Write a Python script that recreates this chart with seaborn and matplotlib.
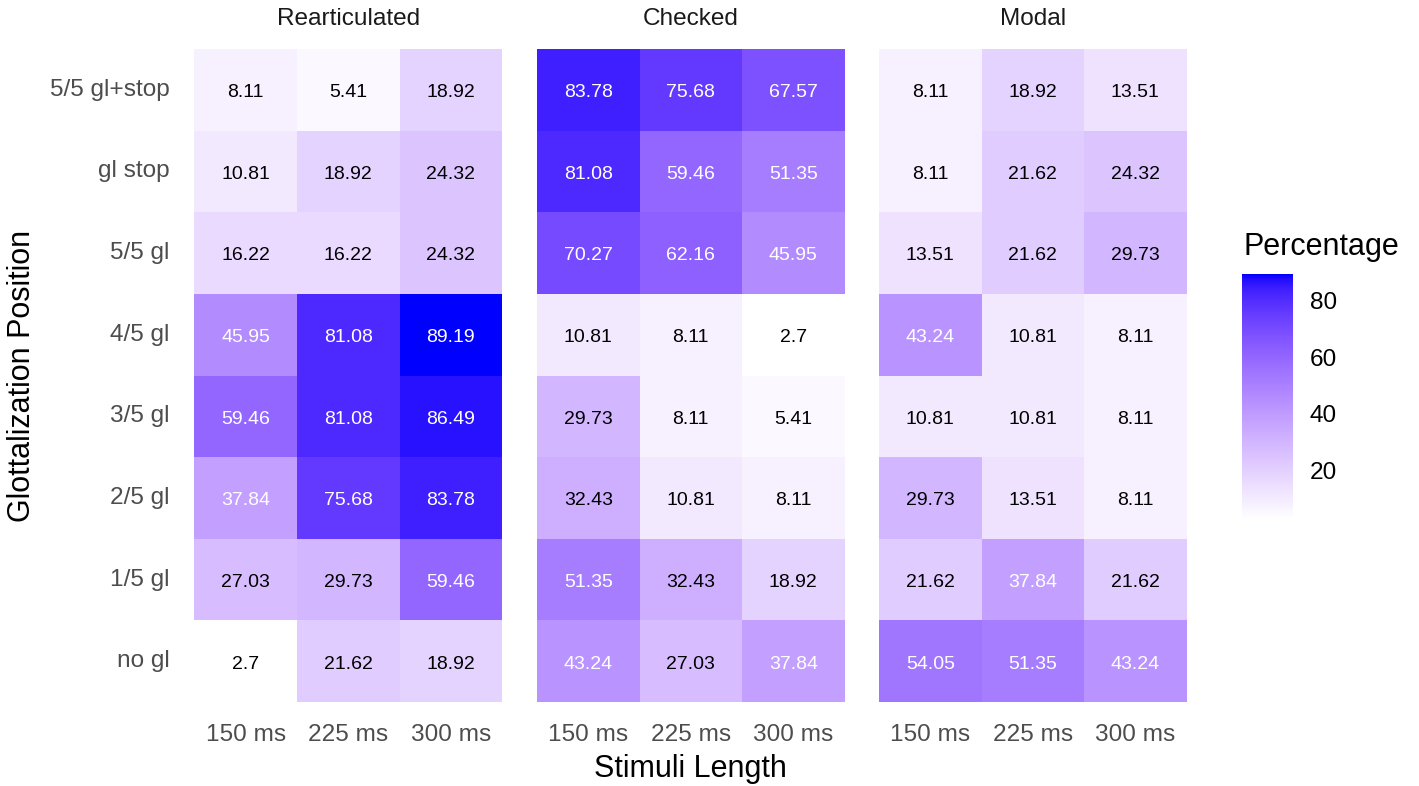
import numpy as np
import pandas as pd
import matplotlib
matplotlib.use("Agg")
import matplotlib.pyplot as plt
from matplotlib.colors import ListedColormap
import seaborn as sns

# ---- data -----------------------------------------------------------------
positions = ["5/5 gl+stop", "gl stop", "5/5 gl", "4/5 gl",
             "3/5 gl", "2/5 gl", "1/5 gl", "no gl"]
lengths = ["150 ms", "225 ms", "300 ms"]
conditions = ["Rearticulated", "Checked", "Modal"]

# percentages per stimulus length, rows ordered as in `positions`
rearticulated_150 = [8.11, 10.81, 16.22, 45.95, 59.46, 37.84, 27.03, 2.7]
rearticulated_225 = [5.41, 18.92, 16.22, 81.08, 81.08, 75.68, 29.73, 21.62]
rearticulated_300 = [18.92, 24.32, 24.32, 89.19, 86.49, 83.78, 59.46, 18.92]

checked_150 = [83.78, 81.08, 70.27, 10.81, 29.73, 32.43, 51.35, 43.24]
checked_225 = [75.68, 59.46, 62.16, 8.11, 8.11, 10.81, 32.43, 27.03]
checked_300 = [67.57, 51.35, 45.95, 2.7, 5.41, 8.11, 18.92, 37.84]

modal_150 = [8.11, 8.11, 13.51, 43.24, 10.81, 29.73, 21.62, 54.05]
modal_225 = [18.92, 21.62, 21.62, 10.81, 10.81, 13.51, 37.84, 51.35]
modal_300 = [13.51, 24.32, 29.73, 8.11, 8.11, 8.11, 21.62, 43.24]

tables = {
    "Rearticulated": [rearticulated_150, rearticulated_225, rearticulated_300],
    "Checked": [checked_150, checked_225, checked_300],
    "Modal": [modal_150, modal_225, modal_300],
}

cbar_ticks = [20, 40, 60, 80]


# ---- white -> blue gradient interpolated in CIE Lab ----------------------
_M = np.array([[0.4124564, 0.3575761, 0.1804375],
               [0.2126729, 0.7151522, 0.0721750],
               [0.0193339, 0.1191920, 0.9503041]])
_WHITE = np.array([0.95047, 1.0, 1.08883])


def rgb_to_lab(rgb):
    rgb = np.asarray(rgb, float)
    lin = np.where(rgb <= 0.04045, rgb / 12.92, ((rgb + 0.055) / 1.055) ** 2.4)
    xyz = _M @ lin / _WHITE
    d = 6 / 29
    f = np.where(xyz > d ** 3, np.cbrt(xyz), xyz / (3 * d * d) + 4 / 29)
    return np.array([116 * f[1] - 16, 500 * (f[0] - f[1]), 200 * (f[1] - f[2])])


def lab_to_rgb(lab):
    L, a, b = lab
    fy = (L + 16) / 116
    fx = fy + a / 500
    fz = fy - b / 200
    d = 6 / 29
    f = np.array([fx, fy, fz])
    xyz = np.where(f > d, f ** 3, 3 * d * d * (f - 4 / 29)) * _WHITE
    lin = np.linalg.solve(_M, xyz)
    lin = np.clip(lin, 0, 1)
    rgb = np.where(lin <= 0.0031308, 12.92 * lin, 1.055 * lin ** (1 / 2.4) - 0.055)
    return np.clip(rgb, 0, 1)


lab_lo = rgb_to_lab([1, 1, 1])
lab_hi = rgb_to_lab([0, 0, 1])
grad = [lab_to_rgb(lab_lo + t * (lab_hi - lab_lo)) for t in np.linspace(0, 1, 256)]
cmap = ListedColormap(grad)

all_vals = np.concatenate([np.ravel(v) for v in tables.values()])
vmin, vmax = all_vals.min(), all_vals.max()

# ---- figure ---------------------------------------------------------------
sns.set_theme(style="white")
plt.rcParams["font.family"] = ["Liberation Sans", "DejaVu Sans"]

W, H = 1419, 786
fig = plt.figure(figsize=(W / 100, H / 100), dpi=100)


def fig_rect(x0, y0, x1, y1):
    return [x0 / W, 1 - y1 / H, (x1 - x0) / W, (y1 - y0) / H]


panel_x = [194.5, 537, 879]
panel_w = 307.5
top, bottom = 49, 702
cax = fig.add_axes(fig_rect(1242, 274, 1293, 520))

grey = "#4D4D4D"
for i, cond in enumerate(conditions):
    ax = fig.add_axes(fig_rect(panel_x[i], top, panel_x[i] + panel_w, bottom))
    df = pd.DataFrame(np.array(tables[cond]).T, index=positions, columns=lengths)
    sns.heatmap(df, ax=ax, cmap=cmap, vmin=vmin, vmax=vmax,
                annot=True, fmt="g", annot_kws={"size": 14},
                cbar=(i == 0), cbar_ax=cax if i == 0 else None,
                linewidths=0, square=False)
    for t in ax.texts:
        t.set_color("white" if float(t.get_text()) > 35 else "black")
        t.set_va("center_baseline")
        x, y = t.get_position()
        t.set_position((x, y + 0.01))
    ax.set_xlabel("")
    ax.set_ylabel("")
    ax.tick_params(axis="both", length=0, labelsize=17.6, labelcolor=grey)
    ax.tick_params(axis="x", pad=16)
    ax.tick_params(axis="y", pad=18)
    plt.setp(ax.get_xticklabels(), rotation=0)
    if i == 0:
        plt.setp(ax.get_yticklabels(), rotation=0)
    else:
        ax.set_yticklabels([])
    fig.text((panel_x[i] + panel_w / 2) / W, 1 - 19 / H, cond,
             ha="center", va="center", fontsize=17.6, color="#1A1A1A")

# colour bar styling
cax.set_yticks(cbar_ticks)
cax.yaxis.set_ticks_position("both")
cax.tick_params(axis="y", direction="in", length=10, width=1.2,
                color=(1, 1, 1, 0.65), labelsize=17.6, labelcolor="black",
                labelleft=False, labelright=True, pad=12)
for s in cax.spines.values():
    s.set_visible(False)

fig.text(1243 / W, 1 - 247 / H, "Percentage", ha="left", va="center",
         fontsize=22, color="black")
fig.text(690 / W, 1 - 769 / H, "Stimuli Length", ha="center", va="center",
         fontsize=22, color="black")
fig.text(22 / W, 1 - 375.5 / H, "Glottalization Position", ha="center",
         va="center", rotation=90, fontsize=22, color="black")

fig.savefig("out.png", dpi=100, facecolor="white")
